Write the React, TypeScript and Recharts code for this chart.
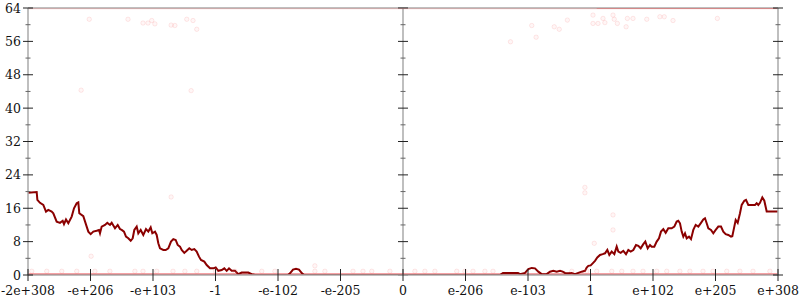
import React from 'react';
import { ComposedChart, Line, Scatter, XAxis, YAxis, ReferenceLine } from 'recharts';

const xTickValues = [-6, -5, -4, -3, -2, -1, 0, 1, 2, 3, 4, 5, 6];
const xTickLabels = ['-2e+308', '-e+206', '-e+103', '-1', '-e-102', '-e-205', '0', 'e-206', 'e-103', '1', 'e+102', 'e+205', 'e+308'];
const yTickValues = [0, 4, 8, 12, 16, 20, 24, 28, 32, 36, 40, 44, 48, 52, 56, 60, 64];
const yLabelStep = 8;

const darkCurve: [number, number][] = [
  [-6.0, 19.7], [-5.861, 19.9], [-5.85, 18], [-5.808, 17.3], [-5.755, 16.8], [-5.712, 15.2], [-5.675, 15.6],
  [-5.621, 15.2], [-5.595, 14.8], [-5.541, 12.8], [-5.488, 12.5], [-5.445, 13], [-5.424, 12.2], [-5.392, 13.3],
  [-5.355, 12.4], [-5.301, 14], [-5.264, 16], [-5.221, 17.2], [-5.195, 17.4], [-5.179, 14.8], [-5.115, 14.1],
  [-5.061, 11.6], [-5.035, 10.4], [-4.997, 9.8], [-4.955, 10.4], [-4.901, 10.6], [-4.864, 10.8], [-4.848, 10],
  [-4.821, 11.6], [-4.768, 12], [-4.731, 12.5], [-4.688, 12], [-4.661, 12.5], [-4.608, 11.2], [-4.565, 12],
  [-4.528, 11], [-4.501, 10.8], [-4.464, 10.4], [-4.432, 9.2], [-4.395, 8.8], [-4.357, 8.2], [-4.325, 8.8],
  [-4.299, 10.8], [-4.261, 11.6], [-4.235, 10], [-4.197, 10.8], [-4.155, 9.6], [-4.112, 11], [-4.075, 10.4],
  [-4.037, 11.4], [-4.011, 10], [-3.968, 10.4], [-3.941, 9.6], [-3.915, 7.6], [-3.888, 6.4], [-3.835, 6],
  [-3.797, 6], [-3.755, 6.4], [-3.712, 8], [-3.675, 8.6], [-3.637, 8.4], [-3.605, 7.2], [-3.568, 6.8],
  [-3.541, 6], [-3.499, 5.3], [-3.461, 5.8], [-3.419, 6.4], [-3.381, 6], [-3.339, 6.2], [-3.301, 5.6],
  [-3.264, 4.4], [-3.232, 3.6], [-3.179, 3.2], [-3.141, 2.4], [-3.088, 1.6], [-3.035, 1.6], [-2.997, 1.8],
  [-2.955, 1], [-2.901, 1.2], [-2.859, 1.6], [-2.821, 1], [-2.784, 1.6], [-2.741, 1], [-2.688, 1],
  [-2.635, 0.2], [-2.581, 0.6], [-2.475, 0.6], [-2.421, 0.2], [-2.368, 0],
  [-1.84, 0], [-1.808, 0.4], [-1.76, 1.3], [-1.712, 1.5], [-1.664, 1.3], [-1.616, 0.4], [-1.584, 0],
  [0, 0], [1.552, 0], [1.6, 0.5], [1.84, 0.5], [1.872, 0.2], [1.952, 0.5], [2.005, 1.4], [2.059, 1.7],
  [2.112, 1.6], [2.165, 0.8], [2.219, 0.2], [2.299, 0.2], [2.352, 0.8], [2.405, 1], [2.459, 0.8], [2.512, 1],
  [2.555, 0.8], [2.592, 0.5], [2.645, 0.4], [2.699, 0.5], [2.752, 0.2], [2.805, 0.5], [2.859, 0.8], [2.912, 1],
  [2.939, 1.8], [2.965, 2.2], [3.003, 2.3], [3.035, 2.8], [3.072, 3.4], [3.109, 4.2], [3.152, 4.8], [3.195, 5],
  [3.232, 5.2], [3.269, 6], [3.301, 4.8], [3.339, 5.6], [3.381, 5], [3.419, 6.8], [3.445, 5.6], [3.483, 5.3],
  [3.525, 5.8], [3.568, 5], [3.605, 6], [3.643, 5.6], [3.685, 6], [3.728, 7.2], [3.765, 7], [3.803, 6.4],
  [3.845, 7.4], [3.877, 8], [3.915, 6.4], [3.952, 7.2], [3.979, 6.8], [4.021, 6.8], [4.059, 8], [4.096, 8.8],
  [4.128, 10.4], [4.165, 11], [4.203, 10.1], [4.245, 11.2], [4.299, 11.2], [4.341, 11.6], [4.379, 12.8],
  [4.405, 13], [4.432, 12.4], [4.459, 10.4], [4.485, 9.2], [4.512, 10], [4.539, 8.8], [4.576, 9.2],
  [4.608, 8.6], [4.645, 10.8], [4.683, 12], [4.725, 11.6], [4.768, 12.5], [4.805, 13.3], [4.832, 13.6],
  [4.859, 12.4], [4.885, 11.2], [4.928, 10.8], [4.965, 10], [5.003, 10.8], [5.045, 11.6], [5.088, 11.6],
  [5.125, 10.4], [5.163, 9.8], [5.205, 9.6], [5.248, 9.2], [5.269, 9.3], [5.301, 11.6], [5.323, 13.2],
  [5.355, 12.5], [5.392, 14.8], [5.419, 16.8], [5.461, 17.8], [5.488, 18], [5.525, 16.8], [5.579, 16.8],
  [5.632, 16.8], [5.659, 17.2], [5.685, 16.8], [5.712, 17.3], [5.749, 18.6], [5.781, 17.8], [5.819, 15.2],
  [5.872, 15.2], [6, 15.2],
];

const zeroBand: [number, number][] = [[-6, 0], [6, 0]];
const topBand: [number, number][] = [[-6, 64], [6, 64]];
const topBandStrong: [number, number][] = [[3.1, 64], [6, 64]];

const lowDotsX = [
  -5.94, -5.7, -5.46, -5.22, -4.93, -4.69, -4.29, -4.16, -3.94, -3.68, -3.49, -3.3, -3.0, -2.69, -2.26, -2.05,
  -1.41, -1.25, -0.8, -0.64, -0.5, -0.21, 0.19, 0.35, 0.51, 0.86, 0.99, 1.12, 1.31, 1.44, 2.7, 2.94, 3.1,
  3.34, 3.5, 3.68, 3.84, 4.06, 4.22, 4.43, 4.59, 4.8, 4.96, 5.18, 5.39, 5.6, 5.87,
];
const lowDotsValue = 0.9;

const strayDots: [number, number][] = [
  [-5.02, 61.3], [-4.4, 61.3], [-4.16, 60.4], [-4.08, 60.4], [-4.02, 61], [-3.97, 60.2], [-3.71, 59.9],
  [-3.65, 59.8], [-3.46, 61.3], [-3.36, 61], [-3.3, 58.9], [-5.15, 44.3], [-3.39, 44.2], [1.72, 55.9],
  [2.06, 59.8], [2.13, 57], [2.42, 59.5], [2.5, 58.9], [2.63, 61.1], [3.04, 62.3], [3.04, 60.3], [3.12, 60.3],
  [3.2, 61.5], [3.23, 60.5], [3.36, 62.3], [3.38, 61.3], [3.43, 60.3], [3.57, 59.5], [3.59, 61.5], [3.68, 61.5],
  [3.9, 61.3], [4.11, 61.9], [4.18, 61.9], [4.32, 61], [5.03, 61.5],
  [-3.71, 18.7], [-4.99, 4.5], [2.91, 21], [2.91, 19.7], [3.36, 14.4], [3.36, 10.8], [3.06, 7.6], [-1.41, 2.2],
];

const toPts = (arr: [number, number][]) => arr.map(([x, y]) => ({ x, y }));

const FONT = 'DejaVu Serif';
const FS = 12.5;

const FaintDot = (props: any) => {
  const { cx, cy } = props;
  if (cx == null || cy == null) return null;
  return <circle cx={cx} cy={cy} r={2.2} fill="#ff9090" fillOpacity={0.08} stroke="#f06060" strokeOpacity={0.14} strokeWidth={1} />;
};

const XTick = (props: any) => {
  const { x, y, payload } = props;
  const i = xTickValues.indexOf(payload.value);
  return (
    <g>
      <line x1={x} x2={x} y1={y - 6} y2={y + 6} stroke="#222" strokeWidth={1} />
      <text x={x} y={y + 20} textAnchor="middle" fontFamily={FONT} fontSize={FS} fill="#111">
        {xTickLabels[i]}
      </text>
    </g>
  );
};

const LeftTick = (props: any) => {
  const { x, y, payload } = props;
  const major = payload.value % yLabelStep === 0;
  const h = major ? 5 : 2.5;
  return (
    <g>
      <line x1={x - h} x2={x + h} y1={y} y2={y} stroke={major ? '#222' : '#666'} strokeWidth={1} />
      {major && (
        <text x={x - 7} y={y} dy="0.36em" textAnchor="end" fontFamily={FONT} fontSize={FS} fill="#111">
          {payload.value}
        </text>
      )}
    </g>
  );
};

const RightTick = (props: any) => {
  const { x, y, payload } = props;
  const major = payload.value % yLabelStep === 0;
  const h = major ? 5 : 2.5;
  return <line x1={x - h} x2={x + h} y1={y} y2={y} stroke={major ? '#222' : '#666'} strokeWidth={1} />;
};

export default function App() {
  return (
    <div style={{ position: 'absolute', left: 0, top: 0, width: 800, height: 300, background: '#fff' }}>
      <ComposedChart width={800} height={300} margin={{ top: 8, right: 0, left: 0, bottom: 0 }}>
        <XAxis
          dataKey="x"
          type="number"
          domain={[-6, 6]}
          ticks={xTickValues}
          interval={0}
          height={25}
          tickSize={0}
          tickMargin={0}
          tick={<XTick />}
          axisLine={{ stroke: '#aaa', strokeWidth: 1.5 }}
          allowDataOverflow
        />
        <YAxis
          dataKey="y"
          type="number"
          domain={[0, 64]}
          ticks={yTickValues}
          interval={0}
          width={28}
          tickSize={0}
          tickMargin={0}
          tick={<LeftTick />}
          axisLine={{ stroke: '#aaa', strokeWidth: 1.5 }}
          allowDataOverflow
        />
        <YAxis
          yAxisId="r"
          orientation="right"
          type="number"
          domain={[0, 64]}
          ticks={yTickValues}
          interval={0}
          width={22}
          tickSize={0}
          tickMargin={0}
          tick={<RightTick />}
          axisLine={{ stroke: '#aaa', strokeWidth: 1.5 }}
          allowDataOverflow
        />
        <ReferenceLine y={64} stroke="#aaa" strokeWidth={1.5} />
        <ReferenceLine x={0} stroke="#aaa" strokeWidth={1.5} />
        {yTickValues.map((v) => {
          const major = v % yLabelStep === 0;
          const d = major ? 0.08 : 0.04;
          return (
            <ReferenceLine
              key={'m' + v}
              segment={[{ x: -d, y: v }, { x: d, y: v }]}
              stroke={major ? '#222' : '#666'}
              strokeWidth={1}
            />
          );
        })}
        <Line
          data={toPts(topBand)}
          dataKey="y"
          stroke="#f06a6a"
          strokeOpacity={0.25}
          strokeWidth={2.5}
          dot={false}
          isAnimationActive={false}
        />
        <Line
          data={toPts(topBandStrong)}
          dataKey="y"
          stroke="#e83a3a"
          strokeOpacity={0.3}
          strokeWidth={2}
          dot={false}
          isAnimationActive={false}
        />
        <Scatter
          data={lowDotsX.map((x) => ({ x, y: lowDotsValue }))}
          shape={<FaintDot />}
          isAnimationActive={false}
        />
        <Scatter data={toPts(strayDots)} shape={<FaintDot />} isAnimationActive={false} />
        <Line
          data={toPts(zeroBand)}
          dataKey="y"
          stroke="#e8262e"
          strokeOpacity={0.85}
          strokeWidth={3}
          dot={false}
          isAnimationActive={false}
        />
        <Line
          data={toPts(darkCurve)}
          dataKey="y"
          stroke="#8b0000"
          strokeWidth={2}
          dot={false}
          isAnimationActive={false}
        />
      </ComposedChart>
    </div>
  );
}
